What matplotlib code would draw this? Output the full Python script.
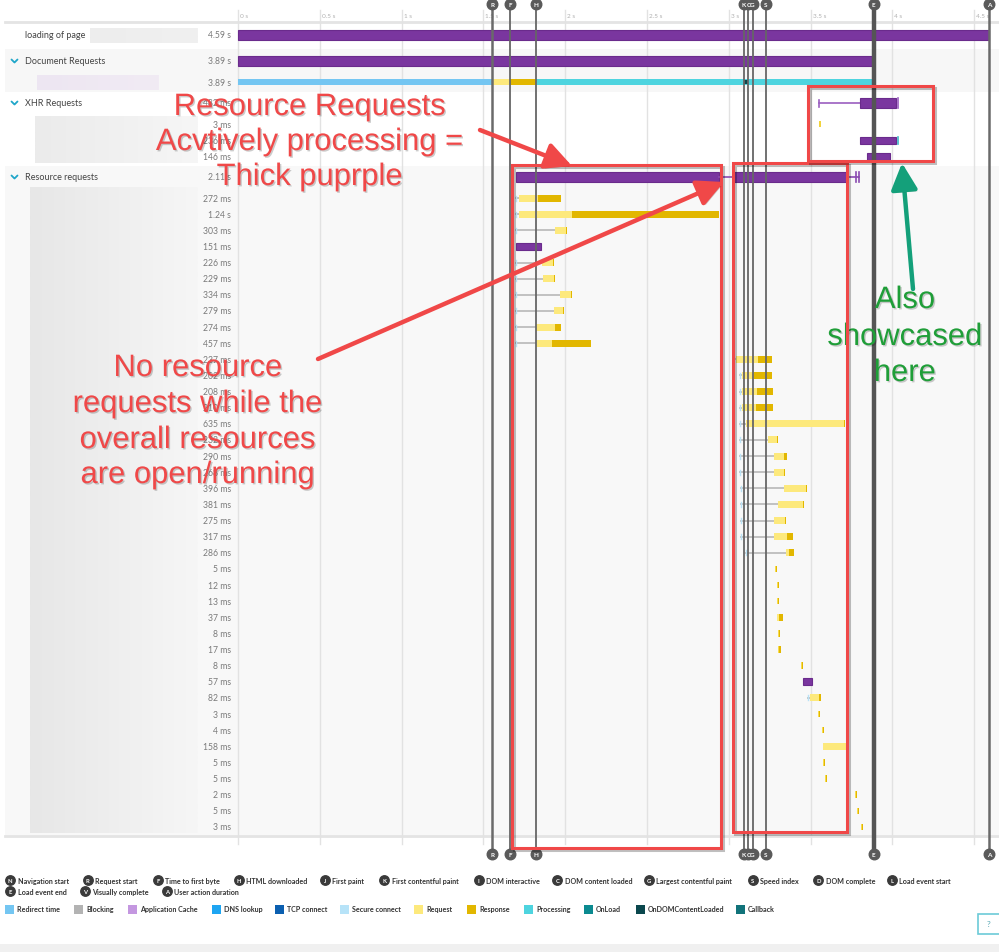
import numpy as np
import matplotlib
matplotlib.use("Agg")
import matplotlib.pyplot as plt
import matplotlib.patheffects as pe
from matplotlib.patches import Rectangle, FancyArrowPatch
from matplotlib.colors import LinearSegmentedColormap

# ---------------- data ----------------
tick_values = [0, 0.5, 1, 1.5, 2, 2.5, 3, 3.5, 4, 4.5]
tick_labels = ["0 s", "0.5 s", "1 s", "1.5 s", "2 s", "2.5 s", "3 s", "3.5 s", "4 s", "4.5 s"]

marker_letters = ["R", "F", "H", "K", "C", "G", "S", "E", "A"]
marker_times = [1.555, 1.665, 1.820, 3.093, 3.120, 3.145, 3.228, 3.885, 4.590]

page_label = "loading of page"
page_duration = 4.59
page_duration_label = "4.59 s"

doc_duration = 3.89
doc_labels = ["3.89 s", "3.89 s"]
doc_redirect_end = 1.555
doc_request_end = 1.665
doc_response_end = 1.820
doc_domloaded_mark = 3.093

xhr_labels = ["482 ms", "3 ms", "236 ms", "146 ms"]
xhr_begin = [3.551, 3.551, 3.802, 3.845]
xhr_proc_begin = [3.802, np.nan, 3.802, 3.845]
xhr_end = [4.022, 3.556, 4.022, 3.985]

res_header_label = "2.11 s"
res_active_start = [1.702, 3.031]
res_active_end = [2.939, 3.723]
res_header_end = 3.797

res_labels = ["272 ms", "1.24 s", "303 ms", "151 ms", "226 ms", "229 ms", "334 ms", "279 ms",
              "274 ms", "457 ms", "237 ms", "202 ms", "208 ms", "210 ms", "635 ms", "232 ms",
              "290 ms", "268 ms", "396 ms", "381 ms", "275 ms", "317 ms", "286 ms", "5 ms",
              "12 ms", "13 ms", "37 ms", "8 ms", "17 ms", "8 ms", "57 ms", "82 ms", "3 ms",
              "4 ms", "158 ms", "5 ms", "5 ms", "2 ms", "5 ms", "3 ms"]
res_start = [1.702, 1.702, 1.702, 1.702, 1.702, 1.702, 1.702, 1.702, 1.702, 1.702,
             3.031, 3.068, 3.068, 3.068, 3.068, 3.068, 3.068, 3.068, 3.074, 3.074,
             3.074, 3.074, 3.105, 3.280, 3.295, 3.295, 3.295, 3.298, 3.299, 3.441,
             3.453, 3.484, 3.548, 3.568, 3.572, 3.574, 3.587, 3.774, 3.783, 3.809]
res_wait = [0.014, 0.014, 0.233, 0.0, 0.157, 0.161, 0.269, 0.228, 0.122, 0.122,
            0.012, 0.012, 0.012, 0.012, 0.037, 0.170, 0.206, 0.206, 0.265, 0.228,
            0.200, 0.200, 0.245, 0.0, 0.0, 0.0, 0.0, 0.0, 0.0, 0.0,
            0.0, 0.010, 0.0, 0.0, 0.003, 0.0, 0.0, 0.0, 0.0, 0.0]
res_req = [0.119, 0.327, 0.069, 0.0, 0.067, 0.067, 0.066, 0.055, 0.116, 0.096,
           0.133, 0.072, 0.092, 0.086, 0.598, 0.057, 0.065, 0.065, 0.133, 0.151,
           0.069, 0.081, 0.017, 0.004, 0.004, 0.005, 0.010, 0.004, 0.004, 0.004,
           0.0, 0.055, 0.002, 0.002, 0.143, 0.003, 0.003, 0.001, 0.003, 0.002]
res_resp = [0.137, 0.896, 0.004, 0.0, 0.003, 0.003, 0.002, 0.002, 0.037, 0.239,
            0.086, 0.112, 0.096, 0.102, 0.003, 0.004, 0.015, 0.003, 0.003, 0.003,
            0.006, 0.035, 0.031, 0.002, 0.008, 0.008, 0.027, 0.004, 0.013, 0.004,
            0.0, 0.012, 0.001, 0.002, 0.012, 0.002, 0.002, 0.001, 0.002, 0.001]
res_proc = [0, 0, 0, 0.151, 0, 0, 0, 0, 0, 0,
            0, 0, 0, 0, 0, 0, 0, 0, 0, 0,
            0, 0, 0, 0, 0, 0, 0, 0, 0, 0,
            0.057, 0, 0, 0, 0, 0, 0, 0, 0, 0]

marker_legend = [("N", "Navigation start"), ("R", "Request start"), ("F", "Time to first byte"),
                 ("H", "HTML downloaded"), ("J", "First paint"), ("K", "First contentful paint"),
                 ("I", "DOM interactive"), ("C", "DOM content loaded"), ("G", "Largest contentful paint"),
                 ("S", "Speed index"), ("D", "DOM complete"), ("L", "Load event start"),
                 ("E", "Load event end"), ("V", "Visually complete"), ("A", "User action duration")]
color_legend = [("Redirect time", "#74c6f2"), ("Blocking", "#b3b3b3"), ("Application Cache", "#c497e0"),
                ("DNS lookup", "#1ea5f2"), ("TCP connect", "#0b5fb0"), ("Secure connect", "#b7e3f8"),
                ("Request", "#fde97c"), ("Response", "#e2b700"), ("Processing", "#4ed4df"),
                ("OnLoad", "#0b8a90"), ("OnDOMContentLoaded", "#0a474d"), ("Callback", "#11737a")]

# ---------------- layout helpers ----------------
W, H = 999, 953
T0PX = 238.0
SPX = 163.6


def px2t(px):
    return (px - T0PX) / SPX


PURPLE = "#7a369f"
PURPLE_EDGE = "#6a2b8c"
REQ = "#fde97c"
RESP = "#e2b700"
WAITC = "#bdbdbd"
REDIR = "#74c6f2"
PROC = "#4ed4df"
TXT = "#444444"
DUR = "#7a7a7a"
FONT = "Lato"

plt.rcParams["font.family"] = [FONT, "DejaVu Sans"]

fig = plt.figure(figsize=(W / 100, H / 100), dpi=100)
ax = fig.add_axes([0, 0, 1, 1])
ax.axis("off")

x_left = px2t(5)
x_right = px2t(999)


def band(y0, y1, color):
    ax.add_patch(Rectangle((x_left, y0), x_right - x_left, y1 - y0, facecolor=color,
                           edgecolor="none", zorder=0))

band(50, 93, "#f7f7f7")
band(167, 836, "#f8f8f8")
ax.plot([x_left, x_right], [22.5, 22.5], color="#e4e4e4", lw=2, zorder=1)
ax.plot([x_left, x_right], [836.5, 836.5], color="#e4e4e4", lw=2, zorder=1)
ax.add_patch(Rectangle((px2t(0), 945), px2t(999) - px2t(0), 8, facecolor="#f0f0f0",
                       edgecolor="none", zorder=0))


def blur_box(x0, x1, y0, y1, c0, c1):
    grad = np.linspace(0, 1, 64).reshape(1, -1)
    cm = LinearSegmentedColormap.from_list("g", [c0, c1])
    ax.imshow(grad, extent=(px2t(x0), px2t(x1), y1, y0), aspect="auto", cmap=cm,
              zorder=1, interpolation="bilinear")

blur_box(90, 198, 29, 44, "#ededed", "#f0f0f0")
blur_box(37, 158, 76, 91, "#ede6f2", "#f1ebf4")
blur_box(35, 198, 117, 164, "#ebebeb", "#f6f6f6")
blur_box(30, 198, 188, 834, "#e7e7e7", "#f6f6f6")
ax.set_xlim(px2t(0), px2t(W))
ax.set_ylim(H, 0)

for tv, tl in zip(tick_values, tick_labels):
    ax.plot([tv, tv], [11, 845], color="#e2e2e2", lw=1, zorder=1)
    ax.text(tv + px2t(240) - px2t(238), 16, tl, fontsize=4.6, color="#b0b0b0",
            ha="left", va="center", zorder=2)

# ---------------- row labels ----------------
LBL_X = px2t(25)
DUR_X = px2t(231)
LBL_FS = 6.5
DUR_FS = 6.2


def chevron(y):
    ax.plot([px2t(11.5), px2t(14.5), px2t(17.5)], [y - 1.5, y + 1.5, y - 1.5],
            color="#1fa6c9", lw=1.3, zorder=3, solid_capstyle="round")


ax.text(LBL_X, 36, page_label, fontsize=LBL_FS, color=TXT, va="center", ha="left", zorder=3)
ax.text(DUR_X, 36, page_duration_label, fontsize=DUR_FS, color=DUR, va="center", ha="right", zorder=3)

chevron(62)
ax.text(LBL_X, 62, "Document Requests", fontsize=LBL_FS, color=TXT, va="center", ha="left", zorder=3)
ax.text(DUR_X, 62, doc_labels[0], fontsize=DUR_FS, color=DUR, va="center", ha="right", zorder=3)
ax.text(DUR_X, 83, doc_labels[1], fontsize=DUR_FS, color=DUR, va="center", ha="right", zorder=3)

chevron(104)
ax.text(LBL_X, 104, "XHR Requests", fontsize=LBL_FS, color=TXT, va="center", ha="left", zorder=3)
xhr_y = [104, 125, 141, 157]
for yy, lab in zip(xhr_y, xhr_labels):
    ax.text(DUR_X, yy, lab, fontsize=DUR_FS, color=DUR, va="center", ha="right", zorder=3)

chevron(178)
ax.text(LBL_X, 178, "Resource requests", fontsize=LBL_FS, color=TXT, va="center", ha="left", zorder=3)
ax.text(DUR_X, 178, res_header_label, fontsize=DUR_FS, color=DUR, va="center", ha="right", zorder=3)

res_y = 199 + np.arange(len(res_labels)) * (828 - 199) / (len(res_labels) - 1)
for yy, lab in zip(res_y, res_labels):
    ax.text(DUR_X, yy, lab, fontsize=DUR_FS, color=DUR, va="center", ha="right", zorder=3)

# ---------------- bars ----------------
MINW = px2t(240) - px2t(238)

ax.barh(36, page_duration, left=0, height=10, color=PURPLE, edgecolor=PURPLE_EDGE, lw=0.8, zorder=4)
ax.barh(62, doc_duration, left=0, height=10, color=PURPLE, edgecolor=PURPLE_EDGE, lw=0.8, zorder=4)
ax.barh(83, doc_redirect_end, left=0, height=6.5, color=REDIR, lw=0, zorder=4)
ax.barh(83, doc_request_end - doc_redirect_end, left=doc_redirect_end, height=6.5, color=REQ, lw=0, zorder=4)
ax.barh(83, doc_response_end - doc_request_end, left=doc_request_end, height=6.5, color=RESP, lw=0, zorder=4)
ax.barh(83, doc_duration - doc_response_end, left=doc_response_end, height=6.5, color=PROC, lw=0, zorder=4)
ax.barh(83, 2 * MINW, left=doc_domloaded_mark, height=4, color="#0a474d", lw=0, zorder=5)

for i, yy in enumerate(xhr_y):
    b, p, e = xhr_begin[i], xhr_proc_begin[i], xhr_end[i]
    if np.isnan(p):
        ax.barh(yy, max(e - b, MINW), left=b, height=6, color="#f2d33c", lw=0, zorder=4)
        continue
    if p > b:
        ax.plot([b, p], [yy, yy], color="#9b5fc0", lw=1.2, zorder=4)
        ax.plot([b, b], [yy - 3.5, yy + 3.5], color="#9b5fc0", lw=1.2, zorder=4)
    h = 10 if i == 0 else 7
    ax.barh(yy, e - p, left=p, height=h, color=PURPLE, edgecolor=PURPLE_EDGE, lw=0.8, zorder=4)
    if i == 0:
        ax.plot([e + MINW * 0.8] * 2, [yy - 5, yy + 5], color="#9b5fc0", lw=1.2, zorder=4)
    if i == 2:
        ax.plot([e + MINW * 0.8] * 2, [yy - 3.5, yy + 3.5], color="#3fb8c8", lw=1.2, zorder=4)

for s, e in zip(res_active_start, res_active_end):
    ax.barh(178, e - s, left=s, height=9.5, color=PURPLE, edgecolor=PURPLE_EDGE, lw=0.8, zorder=4)
ax.plot([res_active_end[0], res_active_start[1]], [178, 178], color="#8a4bb0", lw=1.2, zorder=4)
ax.plot([res_active_end[1], res_header_end], [178, 178], color="#8a4bb0", lw=1.2, zorder=4)
for xx in [res_header_end - 2 * MINW * 0.9, res_header_end]:
    ax.plot([xx, xx], [178 - 5, 178 + 5], color="#8a4bb0", lw=1.2, zorder=4)

for i, yy in enumerate(res_y):
    s = res_start[i]
    if res_proc[i] > 0:
        ax.barh(yy, res_proc[i], left=s, height=7, color=PURPLE, edgecolor=PURPLE_EDGE, lw=0.8, zorder=4)
        continue
    w, rq, rs = res_wait[i], res_req[i], res_resp[i]
    total = w + rq + rs
    if w > 0.005:
        ax.plot([s, s + w], [yy, yy], color=WAITC, lw=1.3, zorder=4)
        ax.plot([s, s], [yy - 2.5, yy + 2.5], color="#b9e2f6", lw=1.0, zorder=4)
    if total < 0.02:
        ax.barh(yy, max(rq, MINW * 0.5), left=s + w, height=6.5, color="#f7dc50", lw=0, zorder=4)
        ax.barh(yy, max(rs, MINW * 0.5), left=s + w + max(rq, MINW * 0.5), height=6.5, color=RESP, lw=0, zorder=4)
        continue
    ax.barh(yy, rq, left=s + w, height=7, color=REQ, lw=0, zorder=4)
    ax.barh(yy, max(rs, MINW * 0.6), left=s + w + rq, height=7, color=RESP, lw=0, zorder=4)

# ---------------- event marker lines ----------------
for let, t in zip(marker_letters, marker_times):
    if let == "E":
        lw, col = 3.2, "#555555"
    elif let in ("A", "R"):
        lw, col = 1.8, "#6a6a6a"
    else:
        lw, col = 1.3, "#666666"
    ax.plot([t, t], [5, 855], color=col, lw=lw, zorder=6)
    for yy in (5, 855):
        ax.plot([t], [yy], marker="o", ms=7.6, color="#5a5a5a", mec="#5a5a5a", zorder=7)
        ax.text(t, yy + 0.3, let, fontsize=4.6, color="white", fontweight="bold",
                ha="center", va="center", zorder=8)

# ---------------- legends ----------------
def legend_marker(px, py, let, label):
    ax.plot([px2t(px)], [py], marker="o", ms=6.8, color="#3a3a3a", zorder=7)
    ax.text(px2t(px), py + 0.3, let, fontsize=4.2, color="white", fontweight="bold",
            ha="center", va="center", zorder=8)
    ax.text(px2t(px + 7.5), py, label, fontsize=5.1, color="#333333", fontweight="bold",
            ha="left", va="center", zorder=8)

row1_x = [10, 87.7, 157.7, 239, 325, 384.3, 478.7, 557.3, 649, 752.7, 818.3, 891.7]
row2_x = [10, 85, 166.7]
for (let, lab), px in zip(marker_legend[:12], row1_x):
    legend_marker(px, 881.3, let, lab)
for (let, lab), px in zip(marker_legend[12:], row2_x):
    legend_marker(px, 892.3, let, lab)

sq_x = [5, 74, 128, 212, 275, 340, 414, 467, 524, 584, 636, 736]
for (lab, col), px in zip(color_legend, sq_x):
    ax.add_patch(Rectangle((px2t(px), 905.5), px2t(px + 9) - px2t(px), 9, facecolor=col,
                           edgecolor="none", zorder=7))
    ax.text(px2t(px + 12), 910, lab, fontsize=5.1, color="#333333", fontweight="bold",
            ha="left", va="center", zorder=8)

ax.add_patch(Rectangle((px2t(978.5), 915), px2t(1005) - px2t(978.5), 20, facecolor="white",
                       edgecolor="#6ccbd8", lw=1.2, zorder=7))
ax.text(px2t(988.5), 925, "?", fontsize=6, color="#5aa9b5", ha="center", va="center", zorder=8)

# ---------------- annotations ----------------
RED = "#f04848"
GREEN = "#1f9e38"
shadow = [pe.SimplePatchShadow(offset=(1.0, -1.0), shadow_rgbFace="#000000", alpha=0.2), pe.Normal()]
ANN_FS = 22.3

for ln, yy in zip(["Resource Requests", "Acvtively processing =", "Thick puprple"], [108, 143, 178]):
    ax.text(px2t(310), yy, ln, fontsize=ANN_FS, color=RED, ha="center", va="center",
            family="Liberation Sans", zorder=10, path_effects=shadow)
for ln, yy in zip(["No resource", "requests while the", "overall resources", "are open/running"],
                  [369, 405, 441, 476]):
    ax.text(px2t(198), yy, ln, fontsize=ANN_FS, color=RED, ha="center", va="center",
            family="Liberation Sans", zorder=10, path_effects=shadow)
for ln, yy in zip(["Also", "showcased", "here"], [301, 338, 374]):
    ax.text(px2t(905), yy, ln, fontsize=ANN_FS, color=GREEN, ha="center", va="center",
            family="Liberation Sans", zorder=10, path_effects=shadow)

for (x0, y0, x1, y1) in [(511.5, 166, 720.5, 849), (732.5, 163.5, 846.5, 832.5), (808, 87, 933, 161.5)]:
    ax.add_patch(Rectangle((px2t(x0), y0), px2t(x1) - px2t(x0), y1 - y0, facecolor="none",
                           edgecolor=RED, lw=2.2, zorder=10,
                           path_effects=[pe.SimpleLineShadow(offset=(1.5, -1.5), alpha=0.25, linewidth=2.2),
                                         pe.Normal()]))


def arrow(x0, y0, x1, y1, color):
    a = FancyArrowPatch((px2t(x0), y0), (px2t(x1), y1), arrowstyle="-|>,head_length=16,head_width=8",
                        mutation_scale=1, color=color, lw=3.2, zorder=11,
                        shrinkA=0, shrinkB=0,
                        path_effects=[pe.SimplePatchShadow(offset=(1.5, -1.5), alpha=0.25), pe.Normal()])
    ax.add_patch(a)

arrow(480, 131, 572, 167, RED)
arrow(318, 360, 724, 183, RED)
arrow(913, 290, 902, 164, "#14a07a")

fig.savefig("out.png", dpi=100)
